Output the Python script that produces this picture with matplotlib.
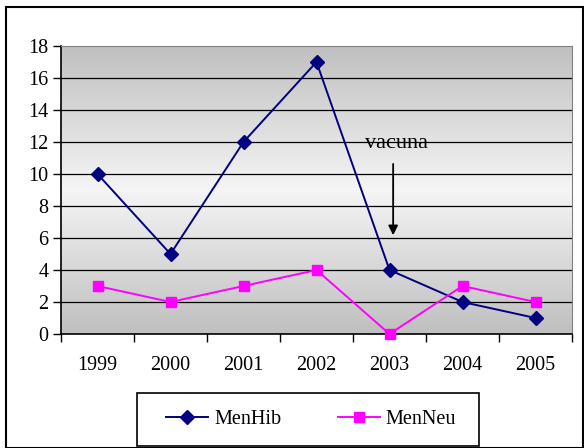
import matplotlib.pyplot as plt
import numpy as np
from matplotlib.patches import Rectangle

years = ["1999", "2000", "2001", "2002", "2003", "2004", "2005"]
men_hib = [10, 5, 12, 17, 4, 2, 1]
men_neu = [3, 2, 3, 4, 0, 3, 2]

plt.rcParams["font.family"] = ["Liberation Serif", "DejaVu Serif"]

fig = plt.figure(figsize=(5.84, 4.48), dpi=100)
ax = fig.add_axes([61 / 584, 1 - 334 / 448, 511 / 584, 288 / 448])

x = np.arange(len(years))
ax.set_xlim(-0.5, len(years) - 0.5)
ax.set_ylim(0, 18)

# gray at top and bottom, light in the middle (old Excel fill)
t = np.abs(np.linspace(-1, 1, 256))
shade = 0.96 - (0.96 - 0.75) * t
grad = np.repeat(shade[:, None, None], 3, axis=2)
ax.imshow(grad, aspect="auto", extent=(-0.5, len(years) - 0.5, 0, 18), zorder=0)

for yv in range(2, 18, 2):
    ax.axhline(yv, color="black", lw=0.9, zorder=1)

ax.plot(x, men_hib, color="#000080", marker="D", ms=7, lw=1.4, label="MenHib", zorder=3, clip_on=False)
ax.plot(x, men_neu, color="#ff00ff", marker="s", ms=7.5, lw=1.4, label="MenNeu", zorder=3, clip_on=False)

ax.set_yticks(range(0, 19, 2))
ax.set_xticks(x)
ax.set_xticklabels(years)
ax.set_xticks(np.arange(-0.5, len(years), 1), minor=True)
ax.tick_params(axis="x", which="major", length=0, pad=16, labelsize=14.5)
ax.tick_params(axis="x", which="minor", length=6, width=1, direction="out")
ax.tick_params(axis="y", length=6, width=1, direction="out", labelsize=14.5, pad=3)

for side in ["top", "right"]:
    ax.spines[side].set_color("#808080")
ax.spines["left"].set_linewidth(1.2)
ax.spines["bottom"].set_linewidth(1.2)

ax.annotate("", xy=(4.05, 6.0), xytext=(4.05, 10.8),
            arrowprops=dict(arrowstyle="-|>", color="black", lw=1.3, mutation_scale=14))
ax.text(4.1, 11.9, "vacuna", ha="center", va="center", fontsize=16)

fig.legend(loc="center", ncol=2, bbox_to_anchor=(311 / 584, 1 - 419 / 448),
           frameon=False, fontsize=14.5, handlelength=2.1, handletextpad=0.3,
           columnspacing=2.8, borderaxespad=0)

# legend box and chart border
fig.patches.append(Rectangle((137 / 584, 2 / 448), 342 / 584, 53 / 448,
                             transform=fig.transFigure, fill=False,
                             edgecolor="black", lw=1.2))
fig.patches.append(Rectangle((6 / 584, 0.5 / 448), 577 / 584, 440 / 448,
                             transform=fig.transFigure, fill=False,
                             edgecolor="black", lw=1.5))

fig.savefig("out.png", dpi=100)
